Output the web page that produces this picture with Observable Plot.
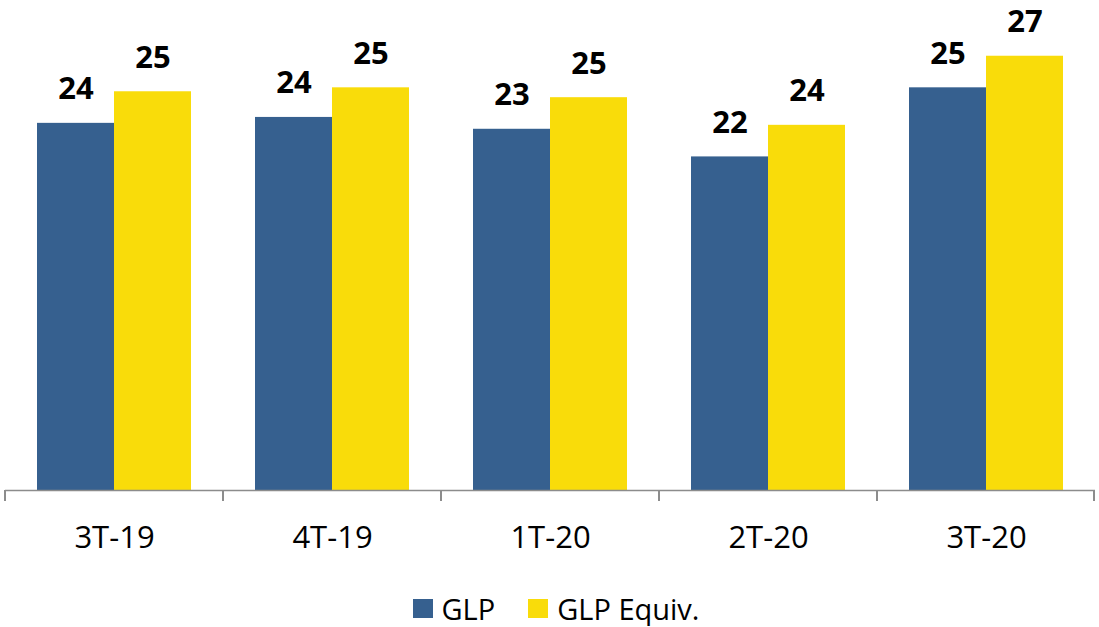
<!DOCTYPE html>
<html>
<head>
<meta charset="utf-8">
<script src="https://cdn.jsdelivr.net/npm/d3@7"></script>
<script src="https://cdn.jsdelivr.net/npm/@observablehq/plot@0.6"></script>
<style>
  html, body { margin: 0; padding: 0; background: #fff; overflow: hidden; }
  #chart { width: 1099px; }
  #chart svg { display: block; }
  .legend { display: flex; justify-content: center; align-items: center; height: 36px;
            font-family: "Open Sans", sans-serif; font-size: 29px; color: #000; padding-left: 13px; box-sizing: border-box; width: 1099px; }
  .legend .item { display: flex; align-items: center; }
  .legend .sw { width: 20px; height: 19px; margin-right: 9px; }
  .legend .item + .item { margin-left: 33px; }
</style>
</head>
<body>
<div id="chart"></div>
<script>
const periods = ["3T-19", "4T-19", "1T-20", "2T-20", "3T-20"];
const series = ["GLP", "GLP Equiv."];
const glp = [23.6, 23.9, 23.3, 21.9, 25.4];
const glpEquiv = [25.2, 25.4, 24.9, 23.5, 27.0];
const colors = ["#36608F", "#F9DC0A"];

const rows = [];
periods.forEach((p, i) => {
  rows.push({period: p, series: series[0], value: glp[i]});
  rows.push({period: p, series: series[1], value: glpEquiv[i]});
});

const yMin = 5;
const plot = Plot.plot({
  width: 1099,
  height: 590,
  marginLeft: 5,
  marginRight: 4,
  marginTop: 36,
  marginBottom: 100,
  style: {fontFamily: "Open Sans, sans-serif", fontSize: "31px", color: "#000", background: "#fff", overflow: "visible"},
  fx: {domain: periods, padding: 0, label: null},
  x: {domain: series, paddingInner: 0, paddingOuter: 0.4, axis: null},
  y: {domain: [yMin, 28], axis: null},
  color: {domain: series, range: colors},
  marks: [
    Plot.barY(rows, {fx: "period", x: "series", y1: yMin, y2: "value", fill: "series"}),
    Plot.ruleY([yMin], {stroke: "#8c8c8c", strokeWidth: 1.5}),
    Plot.text(rows, {fx: "period", x: "series", y: "value", text: d => String(Math.round(d.value)),
      lineAnchor: "bottom", dy: -24, fontWeight: "bold", fontSize: 31, fill: "#000"}),
    Plot.axisFx({anchor: "bottom", tickSize: 0, tickPadding: 35, fontSize: 31, label: null, fill: "#000"})
  ]
});
document.getElementById("chart").appendChild(plot);

// boundary tick marks between categories, positioned from Plot's fx scale
const fxs = plot.scale("fx");
const ys = plot.scale("y");
const base = ys.apply(yMin);
const bounds = fxs.domain.map(d => fxs.apply(d)).concat([fxs.range[1] - 1]);
const g = document.createElementNS("http://www.w3.org/2000/svg", "g");
g.setAttribute("stroke", "#8c8c8c");
g.setAttribute("stroke-width", "2");
for (const b of bounds) {
  const ln = document.createElementNS("http://www.w3.org/2000/svg", "line");
  ln.setAttribute("x1", b); ln.setAttribute("x2", b);
  ln.setAttribute("y1", base); ln.setAttribute("y2", base + 11);
  g.appendChild(ln);
}
plot.appendChild(g);

// legend
const legend = d3.select("body").append("div").attr("class", "legend");
series.forEach((s, i) => {
  const it = legend.append("div").attr("class", "item");
  it.append("div").attr("class", "sw").style("background", colors[i]);
  it.append("span").text(s);
});
</script>
</body>
</html>
